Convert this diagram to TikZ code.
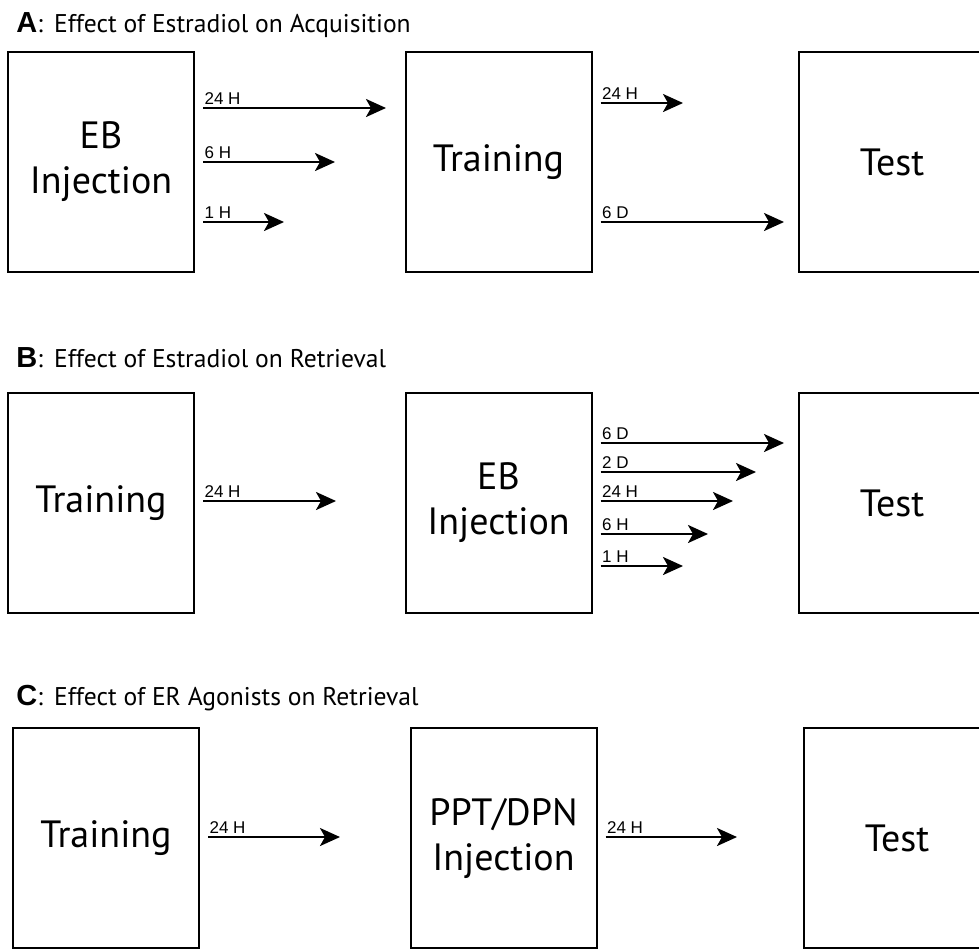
\documentclass[tikz,border=0pt]{standalone}
\usepackage{fontspec}
\setmainfont{PT Sans}
\newfontfamily\helv{Liberation Sans}
\usetikzlibrary{arrows.meta}

\begin{document}
\begin{tikzpicture}[x=0.5pt,y=-0.5pt,
        box/.style={draw,line width=1pt,minimum width=93pt,minimum height=110pt,align=center,font=\fontsize{19}{22.5}\selectfont},
        arr/.style={-{Stealth[length=10pt,width=9pt,inset=2.5pt]},line width=1.2pt,shorten <=4pt},
        lbl/.style={pos=0,above right,xshift=3pt,inner sep=1.2pt,font=\helv\fontsize{8.5}{9}\selectfont},
        ttl/.style={anchor=base west,inner sep=0pt,font=\fontsize{12.8}{14}\selectfont}]
    \useasboundingbox (0,0) rectangle (979,949);
    \node [ttl] (ta) at (16,32) {{\helv\bfseries\fontsize{14.5}{16}\selectfont A}:\, Effect of Estradiol on Acquisition};
    \node [box] (a1) at (101,162) {EB\\Injection};
    \node [box] (a2) at (498.5,162) {Training};
    \node [box] (a3) at (892,162) {Test};
    \coordinate (a1h24) at (386,108);
    \coordinate (a1h6) at (335,162);
    \coordinate (a1h1) at (284,222);
    \coordinate (a2h24) at (683,103);
    \coordinate (a2d6) at (784,222);
    \draw [arr] (a1.east |- a1h24) -- (a1h24) node [lbl] {24 H};
    \draw [arr] (a1.east |- a1h6) -- (a1h6) node [lbl] {6 H};
    \draw [arr] (a1.east |- a1h1) -- (a1h1) node [lbl] {1 H};
    \draw [arr] (a2.east |- a2h24) -- (a2h24) node [lbl] {24 H};
    \draw [arr] (a2.east |- a2d6) -- (a2d6) node [lbl] {6 D};

    \node [ttl] (tb) at (16,367) {{\helv\bfseries\fontsize{14.5}{16}\selectfont B}:\, Effect of Estradiol on Retrieval};
    \node [box] (b1) at (101,503) {Training};
    \node [box] (b2) at (498.5,503) {EB\\Injection};
    \node [box] (b3) at (892,503) {Test};
    \coordinate (b1h24) at (336,501);
    \coordinate (b2d6) at (784,443);
    \coordinate (b2d2) at (756,472);
    \coordinate (b2h24) at (733,501);
    \coordinate (b2h6) at (708,534);
    \coordinate (b2h1) at (683,566);
    \draw [arr] (b1.east |- b1h24) -- (b1h24) node [lbl] {24 H};
    \draw [arr] (b2.east |- b2d6) -- (b2d6) node [lbl] {6 D};
    \draw [arr] (b2.east |- b2d2) -- (b2d2) node [lbl] {2 D};
    \draw [arr] (b2.east |- b2h24) -- (b2h24) node [lbl] {24 H};
    \draw [arr] (b2.east |- b2h6) -- (b2h6) node [lbl] {6 H};
    \draw [arr] (b2.east |- b2h1) -- (b2h1) node [lbl] {1 H};

    \node [ttl] (tc) at (16,705) {{\helv\bfseries\fontsize{14.5}{16}\selectfont C}:\, Effect of ER Agonists on Retrieval};
    \node [box] (c1) at (106,838) {Training};
    \node [box] (c2) at (503.5,838) {PPT/DPN\\Injection};
    \node [box] (c3) at (897,838) {Test};
    \coordinate (c1h24) at (340,837);
    \coordinate (c2h24) at (737,837);
    \draw [arr] (c1.east |- c1h24) -- (c1h24) node [lbl] {24 H};
    \draw [arr] (c2.east |- c2h24) -- (c2h24) node [lbl] {24 H};
\end{tikzpicture}
\end{document}
